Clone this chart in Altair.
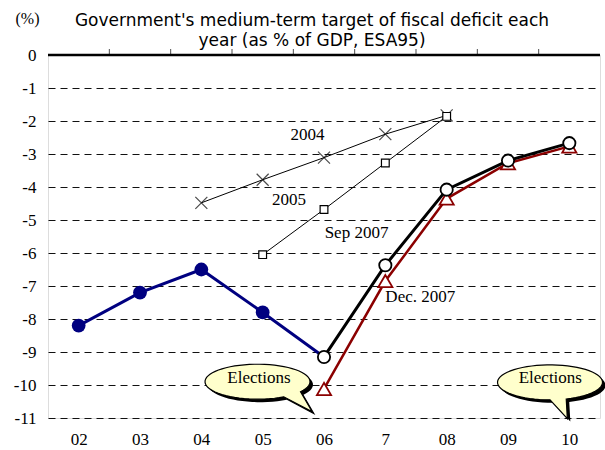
import math
import altair as alt
import pandas as pd

# ---- data ----
years = ["02", "03", "04", "05", "06", "7", "08", "09", "10"]
actual_idx = [0, 1, 2, 3, 4]
actual_val = [-8.2, -7.2, -6.5, -7.8, -9.15]
sep2007_idx = [4, 5, 6, 7, 8]
sep2007_val = [-9.15, -6.37, -4.08, -3.2, -2.67]
dec2007_idx = [4, 5, 6, 7, 8]
dec2007_val = [-10.12, -6.85, -4.35, -3.28, -2.77]
t2004_idx = [2, 3, 4, 5, 6]
t2004_val = [-4.48, -3.78, -3.11, -2.4, -1.83]
t2005_idx = [3, 4, 5, 6]
t2005_val = [-6.05, -4.68, -3.27, -1.86]

label_text = ["2004", "2005", "Sep 2007", "Dec. 2007"]
label_x = [3.73, 3.43, 4.53, 5.57]
label_y = [-2.41, -4.4, -5.39, -7.33]

bubble_text = ["Elections", "Elections"]
bubble_x = [2.916, 7.685]
bubble_y = [-9.9, -9.92]
text_x = [2.94, 7.69]
text_y = [-9.78, -9.78]

title_lines = ["Government's medium-term target of fiscal deficit each",
               "year (as % of GDP, ESA95)"]

SERIF = "Liberation Serif"
NAVY = "#000080"
DRED = "#8B0000"


def bubble_path(t_start, t_end, tip, ry=0.333, n=60):
    """Speech-bubble outline: ellipse arc (long way) from t_start back to t_end, then a tail."""
    pts = []
    a0 = math.radians(t_start)
    a1 = math.radians(t_end) - 2 * math.pi  # go the long way (decreasing angle)
    for k in range(n + 1):
        a = a0 + (a1 - a0) * k / n
        pts.append((math.cos(a), ry * math.sin(a)))
    s = "M %.4f %.4f " % pts[0]
    s += " ".join("L %.4f %.4f" % p for p in pts[1:])
    s += " L %.4f %.4f Z" % tip
    return s


bubble_paths = [
    bubble_path(35, 60, (1.044, 0.575)),
    bubble_path(72, 90, (0.33, 0.69)),
]


def df(idx, val):
    return pd.DataFrame({"i": idx, "v": val})


xscale = alt.Scale(domain=[-0.5, 8.5], nice=False, zero=False)
yscale = alt.Scale(domain=[-11, 0], nice=False, zero=False)

label_expr = "[" + ",".join("'%s'" % y for y in years) + "][datum.value]"

X = alt.X("i:Q", scale=xscale,
          axis=alt.Axis(values=list(range(len(years))), labelExpr=label_expr,
                        grid=False, ticks=False, domain=False, title=None,
                        labelFont=SERIF, labelFontSize=17, labelColor="black",
                        labelPadding=13, labelOverlap=False))
Y = alt.Y("v:Q", scale=yscale,
          axis=alt.Axis(values=list(range(-11, 1)), labelExpr="'' + datum.value",
                        grid=True, gridDash=[7, 5], gridColor="#111", gridWidth=1,
                        ticks=False, domain=False, title="(%)", titleAngle=0,
                        titleX=-21, titleY=-37, titleAlign="center",
                        titleBaseline="middle", titleFont=SERIF,
                        titleFontSize=16, titleFontWeight="normal",
                        labelFont=SERIF, labelFontSize=17, labelColor="black",
                        labelPadding=12, labelOverlap=False, labelFlush=False))

base_enc = dict(x=X, y=Y)

# top thick line and ticks
top_line = alt.Chart(pd.DataFrame({"v": [0]})).mark_rule(
    color="black", strokeWidth=2.5).encode(y=Y)
top_ticks = alt.Chart(pd.DataFrame({"i": [k + 0.5 for k in range(len(years) - 1)],
                                    "v": [0] * (len(years) - 1)})).mark_tick(
    color="black", size=6, thickness=1, yOffset=-3, orient="vertical").encode(**base_enc)

xpath = "M -1 -1 L 1 1 M -1 1 L 1 -1"

l2004 = alt.Chart(df(t2004_idx, t2004_val)).mark_line(color="black", strokeWidth=1).encode(**base_enc)
p2004 = alt.Chart(df(t2004_idx, t2004_val)).mark_point(
    shape=xpath, size=144, color="black", strokeWidth=1.2, filled=False).encode(**base_enc)
l2005 = alt.Chart(df(t2005_idx, t2005_val)).mark_line(color="black", strokeWidth=1).encode(**base_enc)
p2005 = alt.Chart(df(t2005_idx, t2005_val)).mark_point(
    shape="square", size=60, fill="white", stroke="black", strokeWidth=1.2,
    filled=True, opacity=1).encode(**base_enc)

lact = alt.Chart(df(actual_idx, actual_val)).mark_line(color=NAVY, strokeWidth=3).encode(**base_enc)
pact = alt.Chart(df(actual_idx[:-1], actual_val[:-1])).mark_point(
    shape="circle", size=190, filled=True, color=NAVY, opacity=1).encode(**base_enc)

ldec = alt.Chart(df(dec2007_idx, dec2007_val)).mark_line(color=DRED, strokeWidth=2.5).encode(**base_enc)
lsep = alt.Chart(df(sep2007_idx, sep2007_val)).mark_line(color="black", strokeWidth=3).encode(**base_enc)
pdec = alt.Chart(df(dec2007_idx, dec2007_val)).mark_point(
    shape="triangle-up", size=200, fill="white", stroke=DRED, strokeWidth=1.8,
    filled=True, opacity=1).encode(**base_enc)
psep = alt.Chart(df(sep2007_idx, sep2007_val)).mark_point(
    shape="circle", size=150, fill="white", stroke="black", strokeWidth=1.8,
    filled=True, opacity=1).encode(**base_enc)

labels = alt.Chart(pd.DataFrame({"i": label_x, "v": label_y, "t": label_text})).mark_text(
    font=SERIF, fontSize=17, color="black", align="center", baseline="middle").encode(
    text="t:N", **base_enc)

bubbles = []
for k in range(len(bubble_text)):
    bdf = pd.DataFrame({"i": [bubble_x[k]], "v": [bubble_y[k]]})
    bubbles.append(alt.Chart(bdf).mark_point(
        shape=bubble_paths[k], size=11025, filled=True, color="black", opacity=1,
        xOffset=3, yOffset=3).encode(**base_enc))
    bubbles.append(alt.Chart(bdf).mark_point(
        shape=bubble_paths[k], size=11025, filled=True, fill="#FFFFCC",
        stroke="black", strokeWidth=1.2, opacity=1).encode(**base_enc))
btext = alt.Chart(pd.DataFrame({"i": text_x, "v": text_y, "t": bubble_text})).mark_text(
    font=SERIF, fontSize=17, color="black", align="center", baseline="middle").encode(
    text="t:N", **base_enc)

chart = alt.layer(
    l2004, top_line, top_ticks, p2004, l2005, p2005, lact, pact,
    ldec, lsep, pdec, psep, labels, *bubbles, btext
).properties(
    width=552, height=363,
    title=alt.Title(title_lines, font="DejaVu Sans", fontSize=17,
                    fontWeight="normal", anchor="middle", dx=-12, dy=46, offset=6,
                    lineHeight=20, color="black"),
    autosize=alt.AutoSizeParams(type="none"),
    padding={"left": 48, "top": 55, "right": 5, "bottom": 32},
).configure_view(stroke="black", strokeWidth=1.5).configure(background="white")

chart.save("out.html", embed_options={"renderer": "svg", "actions": False})
